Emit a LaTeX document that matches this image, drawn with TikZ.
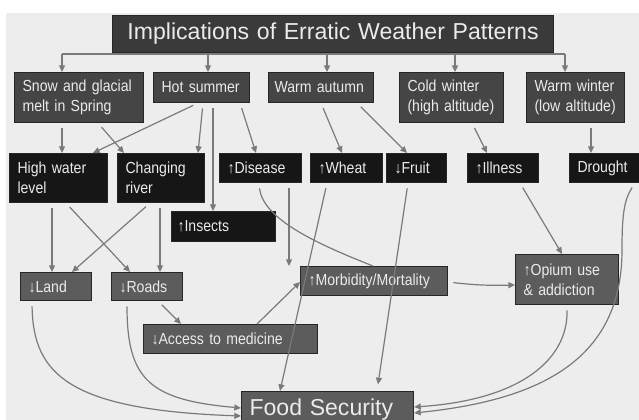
\documentclass[tikz,border=0pt]{standalone}
\usepackage{fontspec}
\setmainfont{Liberation Sans}
\newfontfamily\boxfont[FakeStretch=0.88]{Liberation Sans}
\usetikzlibrary{arrows.meta}

\definecolor{paper}{HTML}{EDEDED}
\definecolor{titlegrey}{HTML}{3A3A3A}
\definecolor{causegrey}{HTML}{454545}
\definecolor{effectblack}{HTML}{161616}
\definecolor{impactgrey}{HTML}{5C5C5C}
\definecolor{linegrey}{HTML}{7A7A7A}

\tikzset{
  box/.style={draw=black!85, line width=0.8pt, anchor=north west, inner xsep=6pt, inner ysep=2pt,
    align=left, text=white!92!black, font=\boxfont\fontsize{12}{15}\selectfont},
  cause/.style={box, fill=causegrey},
  effect/.style={box, fill=effectblack},
  impact/.style={box, fill=impactgrey},
  bigtext/.style={font=\fontsize{17.3}{20}\selectfont},
  link/.style={draw=linegrey, line width=0.9pt, shorten <=4pt, -{Triangle[length=5pt,width=4.5pt]}}
}

\begin{document}
\begin{tikzpicture}[x=0.75pt,y=-0.75pt]
  \useasboundingbox (0,0) rectangle (639,420);
  \fill[white] (0,0) rectangle (639,420);
  \fill[paper] (6,13) rectangle (639,420);

  % weather
  \node[box, fill=titlegrey, bigtext, align=center, text width=318.75pt, minimum height=27.75pt] (title) at (112,15) {Implications of Erratic Weather Patterns};
  \node[cause, text width=84.75pt, minimum height=37.5pt] (snow) at (14,72) {Snow and glacial\\melt in Spring};
  \node[cause, text width=60pt, minimum height=22.5pt] (hot) at (153,72) {Hot summer};
  \node[cause, text width=69.75pt, minimum height=22.5pt, inner xsep=4.5pt] (autumn) at (268,72) {Warm autumn};
  \node[cause, text width=66pt, minimum height=37.5pt] (cold) at (399,72) {Cold winter\\(high altitude)};
  \node[cause, text width=61.5pt, minimum height=37.5pt] (warm) at (526,72) {Warm winter\\(low altitude)};

  % direct effects
  \node[effect, text width=61.5pt, minimum height=36.75pt] (hwl) at (9,153) {High water\\level};
  \node[effect, text width=53.25pt, minimum height=36.75pt] (river) at (117,153) {Changing\\river};
  \node[effect, text width=49.5pt, minimum height=21.75pt] (disease) at (219,153) {↑Disease};
  \node[effect, text width=42pt, minimum height=21.75pt] (wheat) at (310,153) {↑Wheat};
  \node[effect, text width=33pt, minimum height=21.75pt] (fruit) at (386,153) {↓Fruit};
  \node[effect, text width=41.25pt, minimum height=21.75pt] (illness) at (467,153) {↑Illness};
  \node[effect, text width=40.5pt, minimum height=21.75pt] (drought) at (569,153) {Drought};
  \node[effect, text width=69pt, minimum height=22.5pt, inner xsep=4.5pt] (insects) at (171,211) {↑Insects};

  % impacts
  \node[impact, text width=41.25pt, minimum height=21pt] (land) at (20,272) {↓Land};
  \node[impact, text width=41.25pt, minimum height=21pt] (roads) at (111,272) {↓Roads};
  \node[impact, text width=98.25pt, minimum height=21.75pt] (morb) at (300,266) {↑Morbidity/Mortality};
  \node[impact, text width=65.25pt, minimum height=37.5pt] (opium) at (515,254) {↑Opium use\\\& addiction};
  \node[impact, text width=118.5pt, minimum height=21.75pt] (access) at (143,324) {↓Access to medicine};
  \node[impact, bigtext, text width=117pt, minimum height=27pt] (food) at (241,391) {Food Security};

  % from the title
  \coordinate (b1) at (62,54);
  \coordinate (b5) at (565,54);
  \draw[draw=linegrey, line width=0.9pt] (b1) -- (b5);
  \draw[link, shorten <=0pt] (b1) to (snow.north -| b1);
  \draw[link, shorten <=0pt] (208,54) to (hot.north -| 208,0);
  \draw[link, shorten <=0pt] (327,54) to (autumn.north -| 327,0);
  \draw[link, shorten <=0pt] (455,54) to (cold.north -| 455,0);
  \draw[link, shorten <=0pt] (b5) to (warm.north -| b5);

  \draw[link] (snow.south -| 62,0) to (hwl.north -| 62,0);
  \draw[link] (snow.south -| 98,0) to (river.north -| 124,0);
  \draw[link] (hot.south -| 198,0) to (hwl.north -| 93,0);
  \draw[link] (hot.south -| 203,0) to (river.north -| 198,0);
  \draw[link] (hot.south -| 213,0) to (insects.north -| 213,0);
  \draw[link] (hot.south -| 240,0) to (disease.north -| 256,0);
  \draw[link] (autumn.south -| 321,0) to (wheat.north -| 342,0);
  \draw[link] (autumn.south -| 357,0) to (fruit.north -| 407,0);
  \draw[link] (cold.south -| 472,0) to (illness.north -| 487,0);
  \draw[link] (warm.south -| 591,0) to (drought.north -| 591,0);

  \draw[link] (hwl.south -| 52,0) to (land.north -| 52,0);
  \draw[link] (hwl.south -| 66,0) to (roads.north -| 130,0);
  \draw[link] (river.south -| 150,0) to (land.north -| 72,0);
  \draw[link] (river.south -| 160,0) to (roads.north -| 160,0);
  \draw[link] (disease.south -| 289,0) to (morb.north -| 289,0);
  \draw[link, -] (disease.south -| 259,0) .. controls (263,220) and (320,245) .. (morb.north -| 373,0);
  \draw[link] (illness.south -| 520,0) to (opium.north -| 562,0);

  \draw[link] (roads.south -| 158,0) to (access.north -| 181,0);
  \draw[link, shorten <=0pt] (access.north -| 257,0) to (morb.west |- 0,282);
  \draw[link] (morb.east |- 0,282) to[bend right=4] (opium.west |- 0,285);

  % to food security
  \draw[link] (wheat.south -| 327,0) to (food.north -| 280,0);
  \draw[link, shorten >=5pt] (fruit.south -| 408,0) to (food.north -| 377,0);
  \draw[link] (land.south -| 32,0) .. controls (33,375) and (70,410) .. (food.west |- 0,416);
  \draw[link] (roads.south -| 127,0) .. controls (127,380) and (150,400) .. (food.west |- 0,408);
  \draw[link] (opium.south -| 567,0) .. controls (568,360) and (520,400) .. (food.east |- 0,407);
  \draw[link] (drought.south -| 635,0) .. controls (624,200) and (622,215) .. (622,250)
    .. controls (622,360) and (540,400) .. (food.east |- 0,413);
\end{tikzpicture}
\end{document}
